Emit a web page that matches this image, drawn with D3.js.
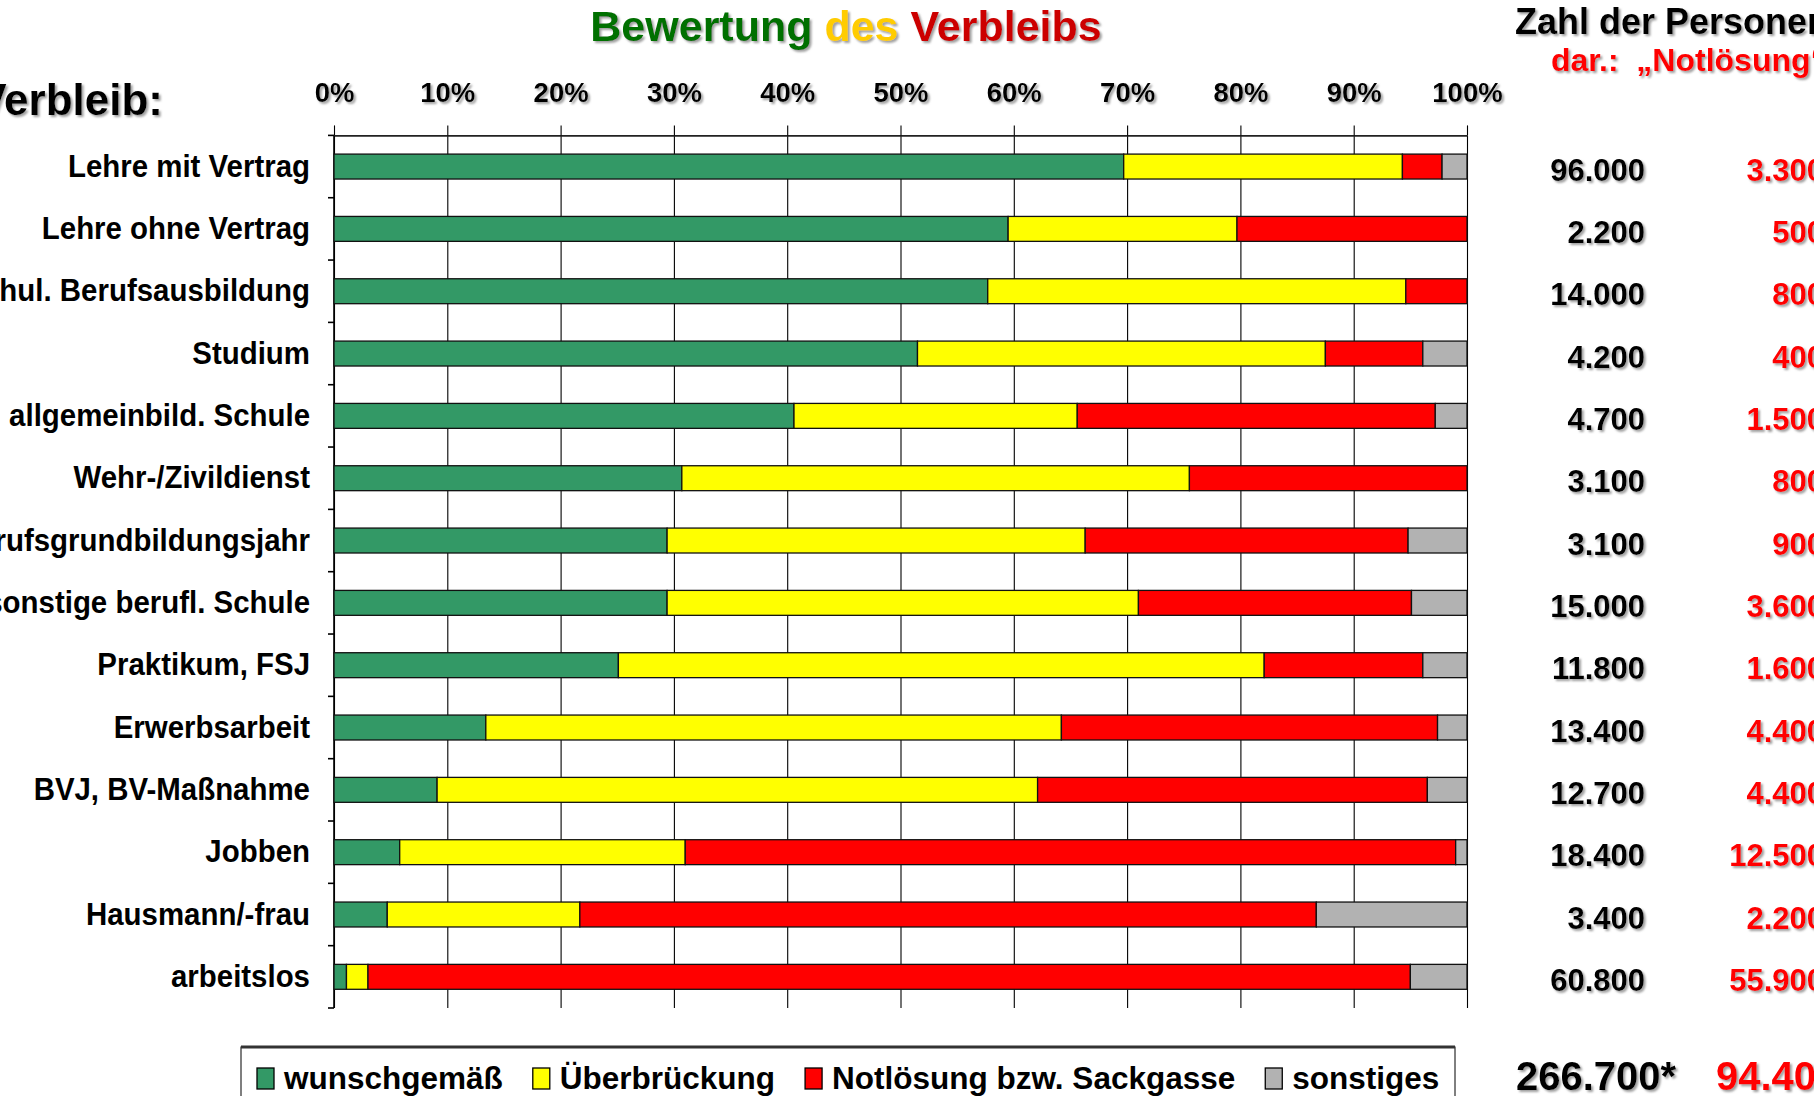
<!DOCTYPE html>
<html>
<head>
<meta charset="utf-8">
<script src="https://cdn.jsdelivr.net/npm/d3@7"></script>
<style>
  html, body { margin: 0; padding: 0; background: #fff; overflow: hidden; }
  svg { display: block; font-family: "Liberation Sans", Arial, Helvetica, sans-serif; font-weight: bold; }
</style>
</head>
<body>
<svg id="chart" width="1814" height="1096"></svg>
<script>
// ---- data -------------------------------------------------------------
const categories = [
  "Lehre mit Vertrag", "Lehre ohne Vertrag", "schul. Berufsausbildung", "Studium",
  "allgemeinbild. Schule", "Wehr-/Zivildienst", "Berufsgrundbildungsjahr",
  "sonstige berufl. Schule", "Praktikum, FSJ", "Erwerbsarbeit", "BVJ, BV-Maßnahme",
  "Jobben", "Hausmann/-frau", "arbeitslos"
];
// shares in percent
const wunschgemaess  = [69.7, 59.5, 57.7, 51.5, 40.6, 30.7, 29.4, 29.4, 25.1, 13.4,  9.1,  5.8,  4.7,  1.1];
const ueberbrueckung = [24.6, 20.2, 36.9, 36.0, 25.0, 44.8, 36.9, 41.6, 57.0, 50.8, 53.0, 25.2, 17.0,  1.9];
const notloesung     = [ 3.5, 20.3,  5.4,  8.6, 31.6, 24.5, 28.5, 24.1, 14.0, 33.2, 34.4, 68.0, 65.0, 92.0];
const sonstiges      = [ 2.2,  0.0,  0.0,  3.9,  2.8,  0.0,  5.2,  4.9,  3.9,  2.6,  3.5,  1.0, 13.3,  5.0];

const personen = ["96.000", "2.200", "14.000", "4.200", "4.700", "3.100", "3.100",
                  "15.000", "11.800", "13.400", "12.700", "18.400", "3.400", "60.800"];
const personenNotloesung = ["3.300", "500", "800", "400", "1.500", "800", "900",
                            "3.600", "1.600", "4.400", "4.400", "12.500", "2.200", "55.900"];
const summePersonen = "266.700*";
const summeNotloesung = "94.400";

const tickValues = [0, 10, 20, 30, 40, 50, 60, 70, 80, 90, 100];
const seriesKeys = ["wunschgemaess", "ueberbrueckung", "notloesung", "sonstiges"];
const seriesLabels = ["wunschgemäß", "Überbrückung", "Notlösung bzw. Sackgasse", "sonstiges"];
const seriesColors = ["#339966", "#FFFF00", "#FF0000", "#B2B2B2"];

// ---- layout -----------------------------------------------------------
const plot = { left: 334, right: 1467, top: 135.4, bottom: 1008 };
const svg = d3.select("#chart");

const defs = svg.append("defs");
const f = defs.append("filter").attr("id", "shadow")
  .attr("x", "-10%").attr("y", "-30%").attr("width", "120%").attr("height", "160%");
f.append("feDropShadow").attr("dx", 2).attr("dy", 2).attr("stdDeviation", 1.2)
  .attr("flood-color", "#808080").attr("flood-opacity", 0.75);

const x = d3.scaleLinear().domain([0, 100]).range([plot.left, plot.right]);
const y = d3.scaleBand().domain(categories).range([plot.top, plot.bottom])
  .paddingInner(0.6).paddingOuter(0.3);

// vertical gridlines (every 10 %)
svg.append("g")
  .attr("transform", `translate(0,${plot.top})`)
  .call(d3.axisBottom(x).tickValues(tickValues).tickSize(plot.bottom - plot.top).tickFormat(""))
  .call(g => g.select(".domain").remove())
  .call(g => g.selectAll("line").attr("stroke", "#000").attr("stroke-width", 1.1));

// top percentage axis
const topAxis = svg.append("g")
  .attr("transform", `translate(0,${plot.top})`)
  .call(d3.axisTop(x).tickValues(tickValues).tickSize(10).tickSizeOuter(0).tickPadding(23)
    .tickFormat(d => d + "%"));
topAxis.select(".domain").attr("stroke", "#222").attr("stroke-width", 1.6);
topAxis.selectAll("line").attr("stroke", "#000").attr("stroke-width", 1.1);
topAxis.selectAll("text")
  .attr("font-size", 27.5).attr("font-weight", "bold").attr("fill", "#000")
  .attr("font-family", "'Liberation Sans', Arial, sans-serif")
  .attr("filter", "url(#shadow)");

// left axis line and category boundary ticks
svg.append("line")
  .attr("x1", plot.left).attr("x2", plot.left)
  .attr("y1", plot.top).attr("y2", plot.bottom)
  .attr("stroke", "#000").attr("stroke-width", 1.6);
const boundaries = categories.map(c => y(c) + y.bandwidth() / 2 - y.step() / 2)
  .concat([y(categories[categories.length - 1]) + y.bandwidth() / 2 + y.step() / 2]);
svg.append("g").selectAll("line").data(boundaries).join("line")
  .attr("x1", plot.left - 6).attr("x2", plot.left)
  .attr("y1", d => d).attr("y2", d => d)
  .attr("stroke", "#000").attr("stroke-width", 1.6);

// stacked bars
const rows = categories.map((c, i) => ({
  cat: c,
  wunschgemaess: wunschgemaess[i],
  ueberbrueckung: ueberbrueckung[i],
  notloesung: notloesung[i],
  sonstiges: sonstiges[i]
}));
const stacked = d3.stack().keys(seriesKeys)(rows);
svg.append("g").selectAll("g").data(stacked).join("g")
  .attr("fill", (d, i) => seriesColors[i])
  .selectAll("rect")
  .data(d => d.filter(s => s[1] - s[0] > 0.01))
  .join("rect")
  .attr("x", d => x(d[0]))
  .attr("width", d => x(d[1]) - x(d[0]))
  .attr("y", d => y(d.data.cat))
  .attr("height", y.bandwidth())
  .attr("stroke", "#111").attr("stroke-width", 1.3);

// category labels
const catAxis = svg.append("g")
  .attr("transform", "translate(310,0)")
  .call(d3.axisLeft(y).tickSize(0).tickPadding(0));
catAxis.select(".domain").remove();
catAxis.selectAll("text")
  .attr("font-size", 32).attr("font-weight", "bold").attr("fill", "#000")
  .attr("font-family", "'Liberation Sans', Arial, sans-serif")
  .attr("transform", "scale(0.92,1)");

// counts per row
const numG = svg.append("g").attr("font-size", 31).attr("filter", "url(#shadow)");
numG.selectAll("text.total").data(categories).join("text")
  .attr("class", "total")
  .attr("x", 1645).attr("y", c => y(c) + y.bandwidth() / 2 + 14)
  .attr("text-anchor", "end").attr("fill", "#000")
  .text((c, i) => personen[i]);
numG.selectAll("text.noth").data(categories).join("text")
  .attr("class", "noth")
  .attr("x", 1824).attr("y", c => y(c) + y.bandwidth() / 2 + 14)
  .attr("text-anchor", "end").attr("fill", "#FF0000")
  .text((c, i) => personenNotloesung[i]);

// sums
svg.append("text").attr("x", 1516).attr("y", 1090).attr("font-size", 40)
  .attr("fill", "#000").attr("filter", "url(#shadow)").text(summePersonen);
svg.append("text").attr("x", 1716).attr("y", 1090).attr("font-size", 40)
  .attr("fill", "#FF0000").attr("filter", "url(#shadow)").text(summeNotloesung);

// headings
const title = svg.append("text").attr("x", 846).attr("y", 41)
  .attr("text-anchor", "middle").attr("font-size", 43).attr("filter", "url(#shadow)");
title.append("tspan").attr("fill", "#007000").text("Bewertung ");
title.append("tspan").attr("fill", "#FFCC00").text("des ");
title.append("tspan").attr("fill", "#CC0000").text("Verbleibs");

svg.append("text").attr("x", 163).attr("y", 115).attr("text-anchor", "end")
  .attr("font-size", 44).attr("fill", "#000").attr("filter", "url(#shadow)")
  .text("Verbleib:");

svg.append("text").attr("x", 1515).attr("y", 34).attr("font-size", 36)
  .attr("fill", "#000").attr("filter", "url(#shadow)").text("Zahl der Personen");
svg.append("text").attr("x", 1551).attr("y", 71).attr("font-size", 32)
  .attr("fill", "#FF0000").attr("filter", "url(#shadow)").text("dar.:\u00a0 „Notlösung“");

// legend
const legend = svg.append("g");
legend.append("rect").attr("x", 241).attr("y", 1047).attr("width", 1214).attr("height", 80)
  .attr("fill", "#fff").attr("stroke", "#000").attr("stroke-width", 1);
legend.append("line").attr("x1", 241).attr("x2", 1455).attr("y1", 1047).attr("y2", 1047)
  .attr("stroke", "#333").attr("stroke-width", 3);
let lx = 257;
seriesLabels.forEach((lab, i) => {
  legend.append("rect").attr("x", lx).attr("y", 1068).attr("width", 17).attr("height", 21)
    .attr("fill", seriesColors[i]).attr("stroke", "#000").attr("stroke-width", 1.3);
  const t = legend.append("text").attr("x", lx + 27).attr("y", 1089)
    .attr("font-size", 31.5).attr("fill", "#000").text(lab);
  lx = lx + 27 + t.node().getComputedTextLength() + 30;
});
</script>
</body>
</html>
